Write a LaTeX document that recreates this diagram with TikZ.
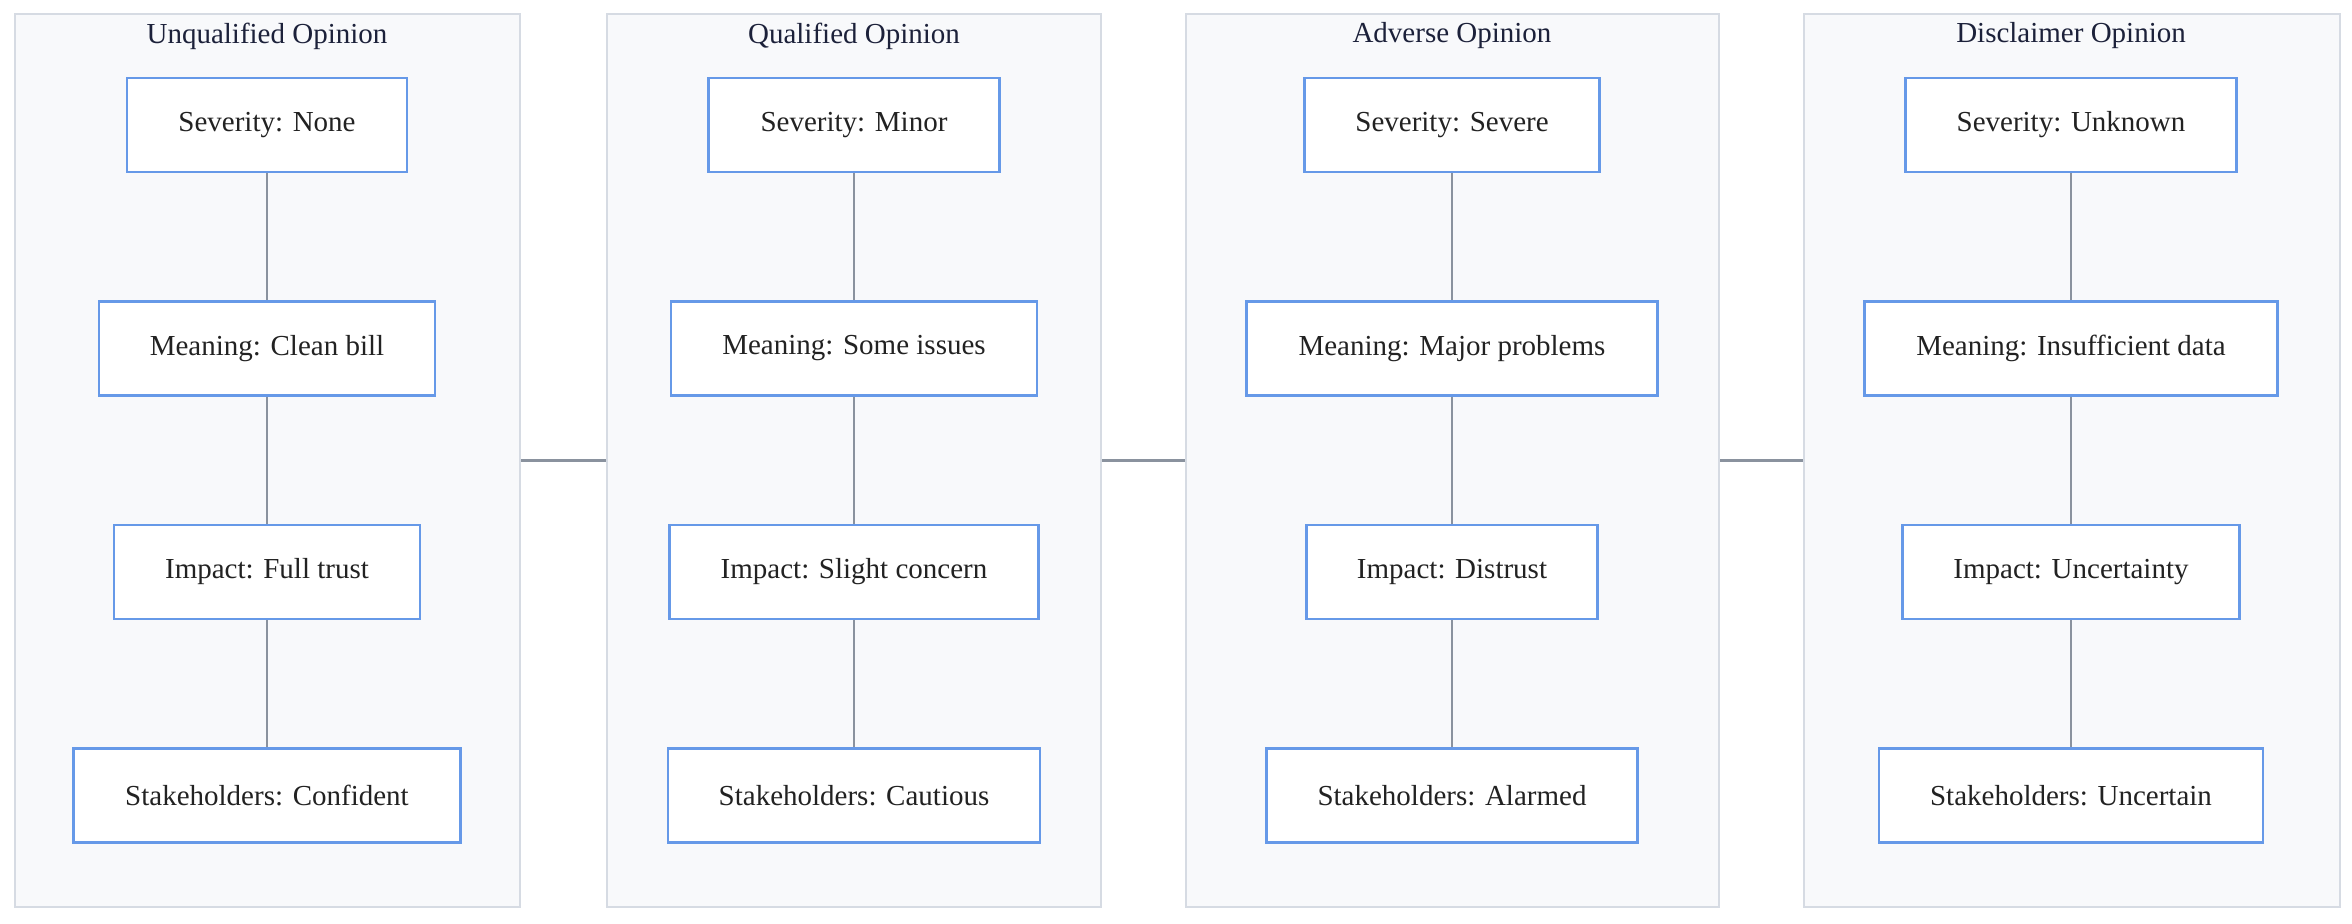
\documentclass[tikz,border=0pt]{standalone}
\usepackage{fontspec}
\setmainfont{Liberation Serif}
\definecolor{clfill}{RGB}{248,249,251}
\definecolor{cldraw}{RGB}{214,219,227}
\definecolor{nodeblue}{RGB}{102,153,232}
\definecolor{linegray}{RGB}{138,146,158}
\definecolor{titlecol}{RGB}{28,33,58}
\definecolor{boxtext}{RGB}{34,34,34}
\begin{document}
\begin{tikzpicture}[x=0.5pt,y=-0.5pt,
  cluster/.style={draw=cldraw,fill=clfill,line width=1pt,minimum height=446.5pt,inner sep=0pt},
  box/.style={draw=nodeblue,fill=white,line width=1.1pt,minimum height=47pt,inner sep=0pt,
              font=\fontsize{14.5}{17}\selectfont,text=boxtext},
  ttl/.style={font=\fontsize{14.5}{17}\selectfont,text=titlecol,inner sep=0pt},
  link/.style={draw=linegray,line width=1.1pt}]
\useasboundingbox (0,0) rectangle (2352,923);

% clusters
\node[cluster,minimum width=252.5pt] (c1) at (267.5,460.5) {};
\node[cluster,minimum width=247pt]   (c2) at (854,460.5) {};
\node[cluster,minimum width=266.5pt] (c3) at (1452.5,460.5) {};
\node[cluster,minimum width=268pt]   (c4) at (2072,460.5) {};

\node[ttl] (t1) at (267,36) {Unqualified Opinion};
\node[ttl] (t2) at (854,36) {Qualified Opinion};
\node[ttl] (t3) at (1452,36) {Adverse Opinion};
\node[ttl] (t4) at (2071,36) {Disclaimer Opinion};

% cluster 1
\node[box,minimum width=140pt]   (s1) at (267,125)   {Severity: None};
\node[box,minimum width=168pt]   (m1) at (267,348.5) {Meaning: Clean bill};
\node[box,minimum width=153pt]   (i1) at (267,572)   {Impact: Full trust};
\node[box,minimum width=193.5pt] (k1) at (267,795.5) {Stakeholders: Confident};

% cluster 2
\node[box,minimum width=145.5pt] (s2) at (854,125)   {Severity: Minor};
\node[box,minimum width=183pt]   (m2) at (854,348.5) {Meaning: Some issues};
\node[box,minimum width=184.5pt] (i2) at (854,572)   {Impact: Slight concern};
\node[box,minimum width=186pt]   (k2) at (854,795.5) {Stakeholders: Cautious};

% cluster 3
\node[box,minimum width=147.5pt] (s3) at (1452,125)   {Severity: Severe};
\node[box,minimum width=205.5pt] (m3) at (1452,348.5) {Meaning: Major problems};
\node[box,minimum width=145.5pt] (i3) at (1452,572)   {Impact: Distrust};
\node[box,minimum width=185.5pt] (k3) at (1452,795.5) {Stakeholders: Alarmed};

% cluster 4
\node[box,minimum width=165.5pt] (s4) at (2071,125)   {Severity: Unknown};
\node[box,minimum width=206.5pt] (m4) at (2071,348.5) {Meaning: Insufficient data};
\node[box,minimum width=168.5pt] (i4) at (2071,572)   {Impact: Uncertainty};
\node[box,minimum width=192pt]   (k4) at (2071,795.5) {Stakeholders: Uncertain};

% vertical connectors
\foreach \n in {1,2,3,4}{
  \draw[link] (s\n) -- (m\n);
  \draw[link] (m\n) -- (i\n);
  \draw[link] (i\n) -- (k\n);
}

% horizontal connectors between clusters
\draw[link] (c1.east) -- (c2.west);
\draw[link] (c2.east) -- (c3.west);
\draw[link] (c3.east) -- (c4.west);
\end{tikzpicture}
\end{document}
